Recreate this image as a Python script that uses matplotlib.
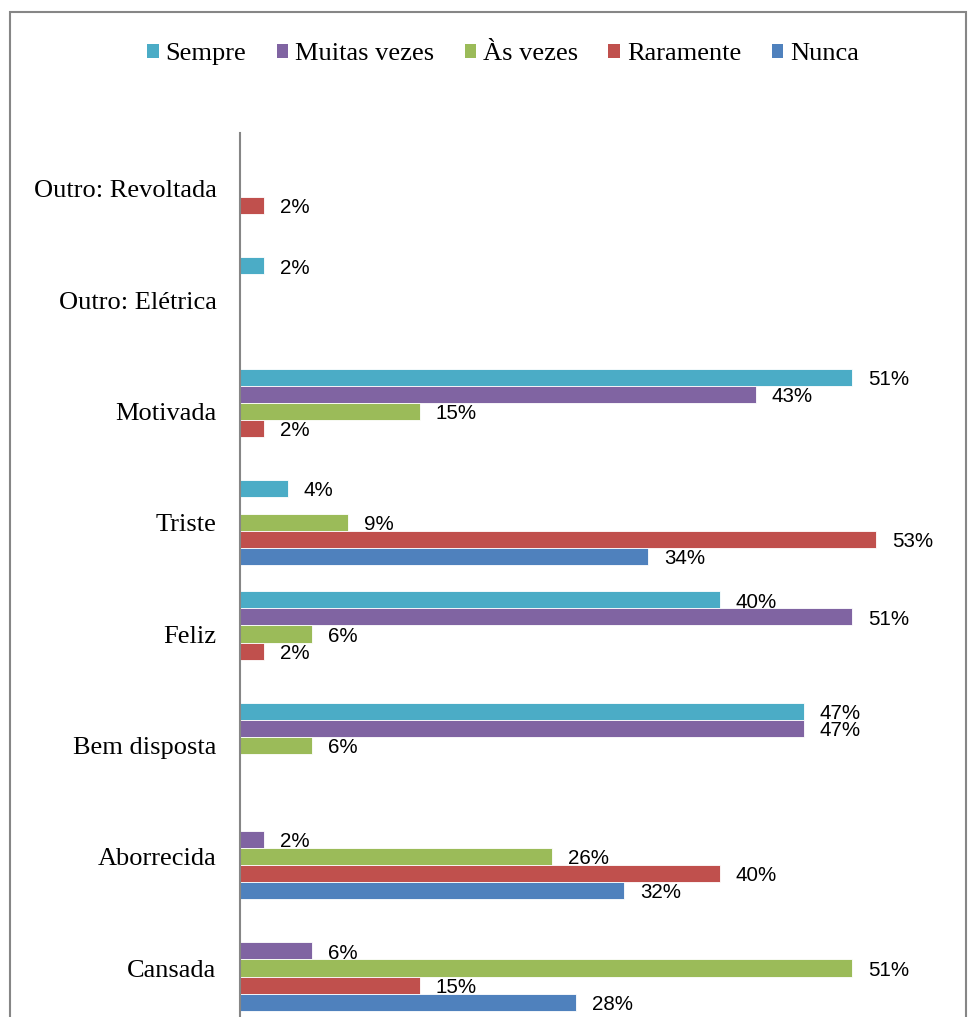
import numpy as np
import matplotlib.pyplot as plt
from matplotlib.patches import Patch, Rectangle

categorias = ["Cansada", "Aborrecida", "Bem disposta", "Feliz", "Triste",
              "Motivada", "Outro: Elétrica", "Outro: Revoltada"]
series = ["Sempre", "Muitas vezes", "Às vezes", "Raramente", "Nunca"]
cores = ["#4BACC6", "#8064A2", "#9BBB59", "#C0504D", "#4F81BD"]

# percentagens por categoria (None = sem resposta)
sempre = [None, None, 47, 40, 4, 51, 2, None]
muitas_vezes = [6, 2, 47, 51, None, 43, None, None]
as_vezes = [51, 26, 6, 6, 9, 15, None, None]
raramente = [15, 40, None, 2, 53, 2, None, 2]
nunca = [28, 32, None, None, 34, None, None, None]
valores = [sempre, muitas_vezes, as_vezes, raramente, nunca]

W, H = 971, 1017
fig = plt.figure(figsize=(W / 100, H / 100), dpi=100)

# moldura cinzenta do gráfico
fig.add_artist(Rectangle((10 / W, -0.05), 956 / W, 1.05 - 12 / H,
                         transform=fig.transFigure, fill=False,
                         edgecolor="#868686", linewidth=1.5))

ax = fig.add_axes([240 / W, 0, 720 / W, (H - 133) / H])
y = np.arange(len(categorias))
h = 0.153
for i, (nome, vals, cor) in enumerate(zip(series, valores, cores)):
    off = (2 - i) * h
    for yi, v in zip(y, vals):
        if v is None:
            continue
        ax.barh(yi + off, v, height=h, color=cor, edgecolor="white", linewidth=0.6)
        ax.annotate(f"{v}%", (v, yi + off), xytext=(11.5, -1.5), textcoords="offset points",
                    va="center", ha="left", fontsize=14.8, family="Liberation Sans")

ax.set_xlim(0, 60)
ax.set_ylim(-0.44, 7.5)
ax.set_yticks(y)
ax.set_yticklabels(categorias, family="Liberation Serif", fontsize=19)
ax.tick_params(axis="y", length=0, pad=17)
ax.set_xticks([])
for s in ["top", "right", "bottom"]:
    ax.spines[s].set_visible(False)
ax.spines["left"].set_color("#868686")
ax.spines["left"].set_linewidth(1.5)

handles = [Patch(facecolor=c, edgecolor="none") for c in cores]
fig.legend(handles, series, loc="center", bbox_to_anchor=(0.518, 1 - 54 / H), ncol=5,
           frameon=False, handlelength=0.45, handleheight=0.45, handletextpad=0.25,
           columnspacing=1.15, prop={"family": "Liberation Serif", "size": 19})

fig.savefig("out.png", dpi=100)
